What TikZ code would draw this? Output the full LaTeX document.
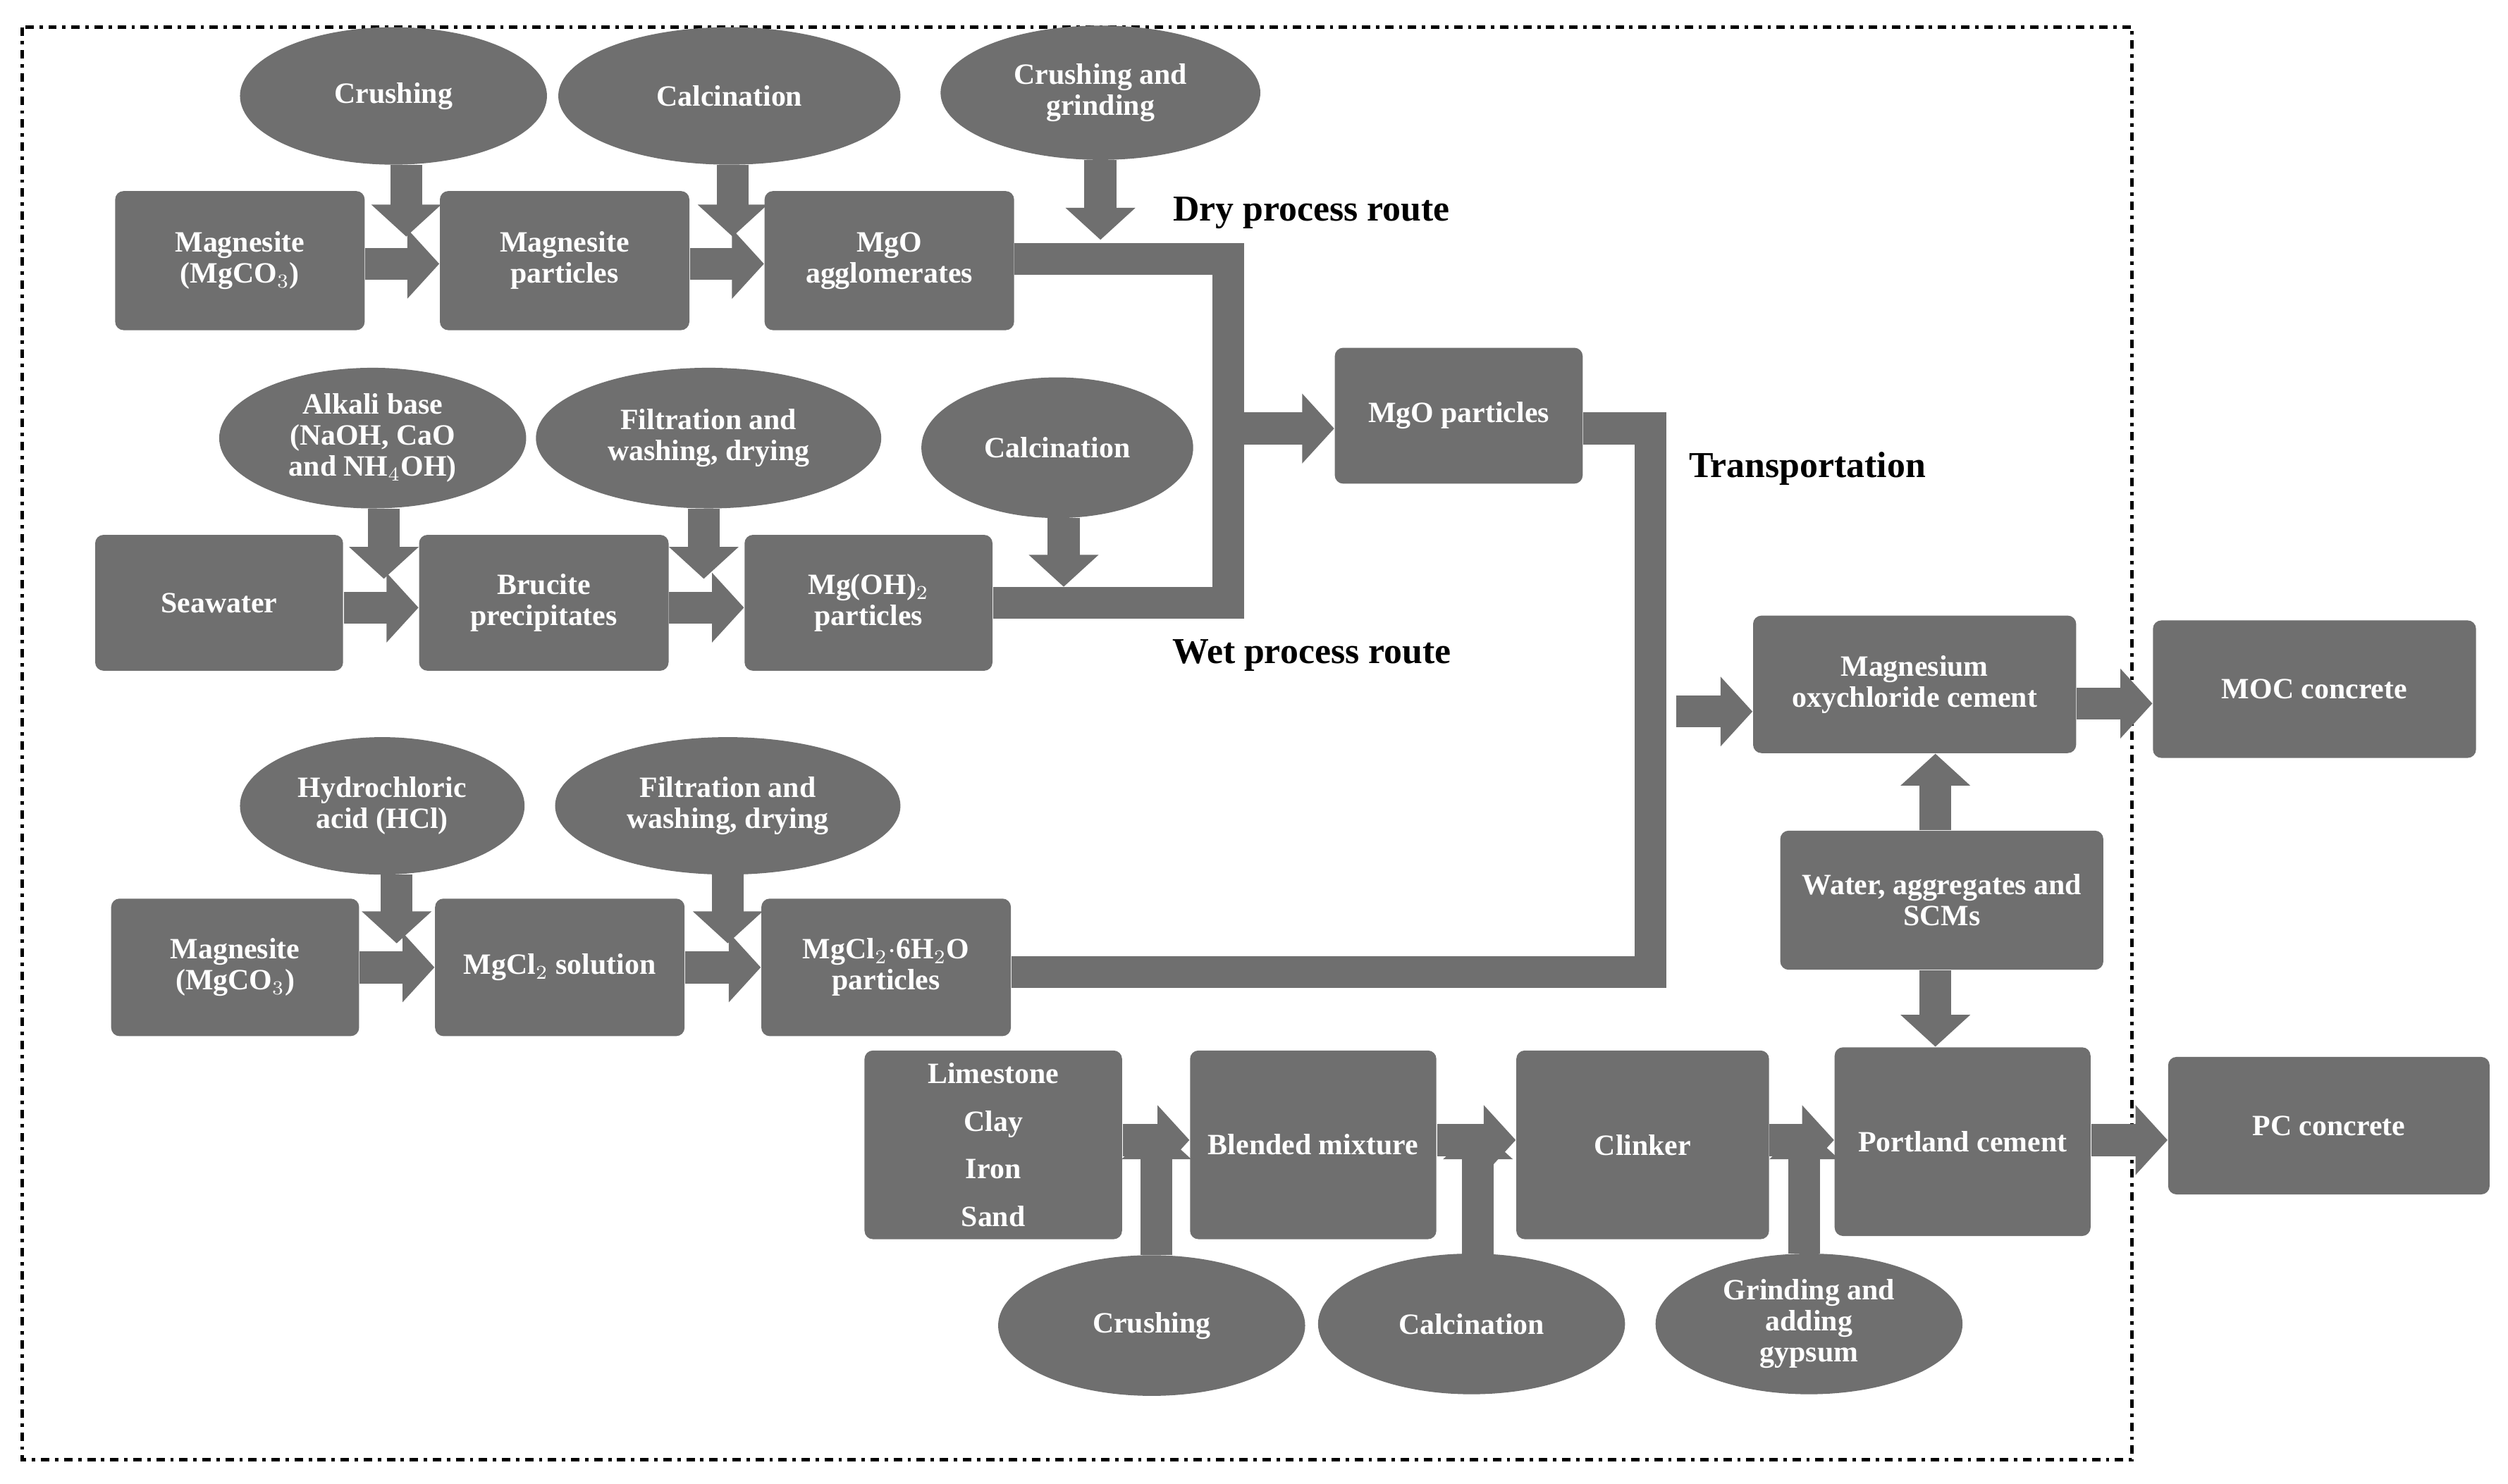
\documentclass[tikz,border=0pt]{standalone}
\usepackage{fontspec}
\setmainfont{Liberation Serif}
\usetikzlibrary{arrows.meta,shapes.geometric}
\definecolor{g}{HTML}{6F6F6F}
\begin{document}
\begin{tikzpicture}[x=0.02cm,y=-0.02cm,
 box/.style={fill=g,rounded corners=3pt,text=white,font=\fontsize{10.5}{11}\selectfont\bfseries,align=center,inner sep=0pt},
 ell/.style={ellipse,fill=g,text=white,font=\fontsize{10.5}{11}\selectfont\bfseries,align=center,inner sep=0pt},
 arr/.style={draw=g,line width=0.4cm,-{Triangle[length=0.4cm,width=0.85cm]},shorten >=0pt},
 band/.style={draw=g,line width=0.4cm},
 lab/.style={font=\fontsize{13}{14}\selectfont\bfseries}]
\useasboundingbox (0,0) rectangle (1568,928);
\draw[line width=1.2pt,dash dot] (14,17) rectangle (1333,913);
\newcommand{\bx}[6]{\node[box,minimum width=#4*0.02cm,minimum height=#5*0.02cm] (#1) at (#2,#3) {#6};}
\newcommand{\el}[6]{\node[ell,minimum width=#4*0.04cm,minimum height=#5*0.04cm] (#1) at (#2,#3) {#6};}
% row1
\bx{a1}{150}{163}{156}{87}{Magnesite\\(MgCO$_3$)}
\bx{a2}{353}{163}{156}{87}{Magnesite\\particles}
\bx{a3}{556}{163}{156}{87}{MgO\\agglomerates}
\el{ea1}{246}{60}{96}{43}{Crushing}
\el{ea2}{456}{60}{107}{43}{Calcination}
\el{ea3}{688}{58}{100}{42}{Crushing and\\grinding}
\draw[arr] (254,103) -- (254,148);
\draw[arr] (458,103) -- (458,148);
\draw[arr] (688,100) -- (688,150);
\draw[arr] (a1.east|-0,165) -- (a2.west|-0,165);
\draw[arr] (a2.east|-0,165) -- (a3.west|-0,165);
% row2
\bx{b1}{137}{377}{155}{85}{Seawater}
\bx{b2}{340}{377}{156}{85}{Brucite\\precipitates}
\bx{b3}{543}{377}{155}{85}{Mg(OH)$_2$\\particles}
\el{eb1}{233}{274}{96}{44}{Alkali base\\(NaOH, CaO\\and NH$_4$OH)}
\el{eb2}{443}{274}{108}{44}{Filtration and\\washing, drying}
\el{eb3}{661}{280}{85}{44}{Calcination}
\draw[arr] (240,318) -- (240,362);
\draw[arr] (440,318) -- (440,362);
\draw[arr] (665,324) -- (665,367);
\draw[arr] (b1.east|-0,380) -- (b2.west|-0,380);
\draw[arr] (b2.east|-0,380) -- (b3.west|-0,380);
% routes
\bx{m}{912}{260}{155}{85}{MgO particles}
\draw[band] (a3.east|-0,162) -- (768,162) -- (768,387);
\draw[band] (b3.east|-0,377) -- (778,377);
\draw[arr] (768,268) -- (m.west|-0,268);
\node[lab] (t1) at (820,133) {Dry process route};
\node[lab] (t2) at (820,410) {Wet process route};
% row3
\bx{c1}{147}{605}{155}{86}{Magnesite\\(MgCO$_3$)}
\bx{c2}{350}{605}{156}{86}{MgCl$_2$ solution}
\bx{c3}{554}{605}{156}{86}{MgCl$_2$$\cdot$6H$_2$O\\particles}
\el{ec1}{239}{504}{89}{43}{Hydrochloric\\acid (HCl)}
\el{ec2}{455}{504}{108}{43}{Filtration and\\washing, drying}
\draw[arr] (248,547) -- (248,590);
\draw[arr] (455,547) -- (455,590);
\draw[arr] (c1.east|-0,605) -- (c2.west|-0,605);
\draw[arr] (c2.east|-0,605) -- (c3.west|-0,605);
% transport
\draw[band] (m.east|-0,268) -- (1032,268) -- (1032,608) -- (c3.east|-0,608);
\node[lab] (t3) at (1130,293) {Transportation};
\bx{moc}{1197}{428}{202}{86}{Magnesium\\oxychloride cement}
\bx{mc}{1447}{431}{202}{86}{MOC concrete}
\bx{w}{1214}{563}{202}{87}{Water, aggregates and\\SCMs}
\draw[arr] (1048,445) -- (moc.west|-0,445);
\draw[arr] (moc.east|-0,440) -- (mc.west|-0,440);
% row4
\bx{d1}{621}{716}{161}{118}{Limestone\\[6pt]Clay\\[6pt]Iron\\[6pt]Sand}
\bx{d2}{821}{716}{154}{118}{Blended mixture}
\bx{d3}{1027}{716}{158}{118}{Clinker}
\bx{d4}{1227}{714}{160}{118}{Portland cement}
\bx{pc}{1456}{704}{201}{86}{PC concrete}
\coordinate (wx) at (1210,0);
\draw[arr] (w.south-|wx) -- (d4.north-|wx);
\draw[arr] (w.north-|wx) -- (moc.south-|wx);
\el{ed1}{720}{829}{96}{44}{Crushing}
\el{ed2}{920}{828}{96}{44}{Calcination}
\el{ed3}{1131}{828}{96}{44}{Grinding and\\adding\\gypsum}
\draw[arr] (723,785) -- (723,705);
\draw[arr] (924,785) -- (924,705);
\draw[arr] (1128,784) -- (1128,705);
\draw[arr] (d1.east|-0,713) -- (d2.west|-0,713);
\draw[arr] (d2.east|-0,713) -- (d3.west|-0,713);
\draw[arr] (d3.east|-0,713) -- (d4.west|-0,713);
\draw[arr] (d4.east|-0,713) -- (pc.west|-0,713);
\end{tikzpicture}
\end{document}
